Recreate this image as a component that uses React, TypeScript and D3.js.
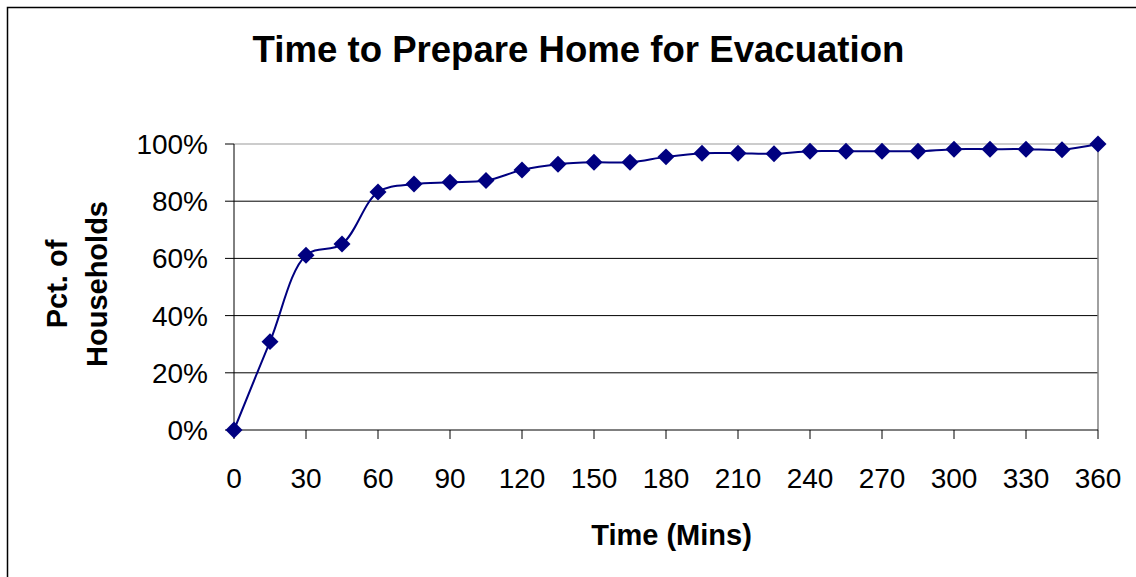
import React from 'react';
import { scaleLinear, line, curveCatmullRom, symbol, symbolSquare } from 'd3';

const minutes = [0, 15, 30, 45, 60, 75, 90, 105, 120, 135, 150, 165, 180, 195, 210, 225, 240, 255, 270, 285, 300, 315, 330, 345, 360];
const pctHouseholds = [0, 30.9, 61.1, 65.0, 83.2, 86.0, 86.6, 87.2, 90.9, 92.9, 93.6, 93.6, 95.5, 96.8, 96.8, 96.6, 97.5, 97.5, 97.5, 97.5, 98.2, 98.2, 98.2, 98.0, 100];
const xTicks = [0, 30, 60, 90, 120, 150, 180, 210, 240, 270, 300, 330, 360];
const yTicks = [0, 20, 40, 60, 80, 100];

const title = 'Time to Prepare Home for Evacuation';
const xTitle = 'Time (Mins)';
const yTitle = ['Pct. of', 'Households'];

const W = 1136, H = 577;
const margin = { top: 144, right: 38, bottom: 147, left: 234 };
const font = 'Arial, "Liberation Sans", sans-serif';

const App: React.FC = () => {
  const x = scaleLinear().domain([0, 360]).range([margin.left, W - margin.right]);
  const y = scaleLinear().domain([0, 100]).range([H - margin.bottom, margin.top]);
  const x0 = x(0), x1 = x(360), yb = y(0), yt = y(100);

  const pts: [number, number][] = minutes.map((m, i) => [m, pctHouseholds[i]]);
  const path = line<[number, number]>()
    .x(d => x(d[0]))
    .y(d => y(d[1]))
    .curve(curveCatmullRom.alpha(0.5))(pts) || '';
  // excel-style diamond: a square turned 45deg
  const diamond = symbol().type(symbolSquare).size(144)() || '';

  return (
    <svg width={W} height={H} style={{ position: 'absolute', left: 0, top: 0, background: '#fff' }}>
      <rect x={7.5} y={7.5} width={W + 20} height={H + 20} fill="#fff" stroke="#000" strokeWidth={1.5} />

      <text x={578.5} y={62} textAnchor="middle" fontFamily={font} fontWeight="bold" fontSize={36.6}>{title}</text>

      {/* gridlines */}
      {yTicks.filter(t => t > 0).map(t => (
        <line key={t} x1={x0} x2={x1} y1={y(t)} y2={y(t)} stroke={t === 100 ? '#999' : '#000'} strokeWidth={1} />
      ))}
      {/* plot area border (right) */}
      <line x1={x1} x2={x1} y1={yt} y2={yb} stroke="#808080" strokeWidth={1.5} />

      {/* y axis */}
      <line x1={x0} x2={x0} y1={yt} y2={yb} stroke="#000" strokeWidth={1} />
      {yTicks.map(t => (
        <g key={t}>
          <line x1={x0 - 9} x2={x0} y1={y(t)} y2={y(t)} stroke="#000" strokeWidth={1} />
          <text x={208} y={y(t) + 10} textAnchor="end" fontFamily={font} fontSize={28}>{t}%</text>
        </g>
      ))}

      {/* x axis */}
      <line x1={x0} x2={x1} y1={yb} y2={yb} stroke="#000" strokeWidth={1} />
      {xTicks.map(t => (
        <g key={t}>
          <line x1={x(t)} x2={x(t)} y1={yb} y2={yb + 9} stroke="#000" strokeWidth={1} />
          <text x={x(t)} y={488} textAnchor="middle" fontFamily={font} fontSize={28}>{t}</text>
        </g>
      ))}

      <text x={671.5} y={545} textAnchor="middle" fontFamily={font} fontWeight="bold" fontSize={29}>{xTitle}</text>
      {yTitle.map((s, i) => (
        <text key={s} transform={`translate(${67 + i * 40}, 284) rotate(-90)`} textAnchor="middle"
          fontFamily={font} fontWeight="bold" fontSize={29}>{s}</text>
      ))}

      <path d={path} fill="none" stroke="#000080" strokeWidth={2} />
      {pts.map((d, i) => (
        <path key={i} d={diamond} transform={`translate(${x(d[0])}, ${y(d[1])}) rotate(45)`} fill="#000080" />
      ))}
    </svg>
  );
};

export default App;
